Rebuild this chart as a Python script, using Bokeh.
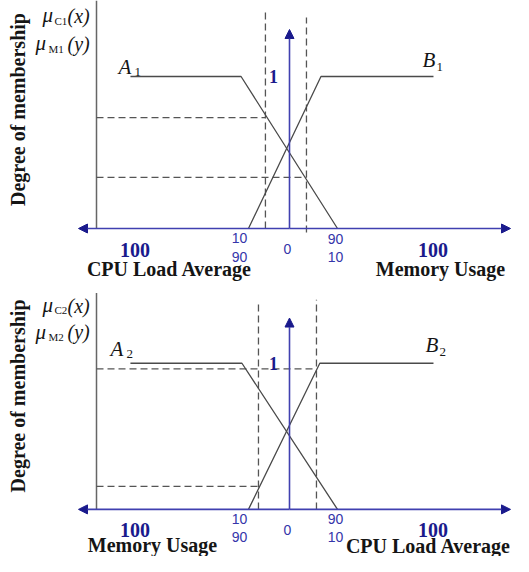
import math
from bokeh.plotting import figure
from bokeh.layouts import column
from bokeh.models import Range1d, Arrow, NormalHead, Label
from bokeh.embed import file_html
from bokeh.resources import INLINE

# ---------------- data (schematic axis: 0 at centre, ~±100 at the "100" marks) ----------------
# panel 1 : CPU load (left) / memory usage (right)
a1_x = [-109.7, -33.4, 33.1]
a1_mu = [1.0, 1.0, 0.0]
b1_x = [-28.3, 21.7, 99.3]
b1_mu = [0.0, 1.0, 1.0]
cut1_x = [-16.6, 11.7]          # crisp inputs (dashed verticals)
cut1_mu = [0.730, 0.336]        # membership degrees read at those inputs (dashed horizontals)

# panel 2 : memory usage (left) / CPU load (right)
a2_x = [-109.7, -32.8, 33.1]
a2_mu = [1.0, 1.0, 0.0]
b2_x = [-28.3, 20.9, 99.3]
b2_mu = [0.0, 1.0, 1.0]
cut2_x = [-21.4, 18.6]
cut2_mu = [0.158, 0.961]

tick_upper = ["10", "90"]
tick_lower = ["90", "10"]
tick_zero = "0"
end_label = "100"

panel1_titles = ["CPU Load Average", "Memory Usage"]
panel2_titles = ["Memory Usage", "CPU Load Average"]

# ---------------- styling ----------------
LINE = "#4a4a4a"
DASH = "#555555"
BLUE = "#4040b0"
NAVY = "#1a1a8c"
TICK = "#3535aa"
TXT = "#151515"
GAXIS = "#666666"
SERIF = "Liberation Serif"
SANS = "Liberation Sans"

PXU = 1.45      # pixels per axis unit
PXM = 152.0     # pixels per membership unit
CX = 289.0      # pixel column of the centre
W = 513


def X(px):
    return (px - CX) / PXU


def make_panel(zero_py, ref_top, ref_bot, fig_h, a_x, a_mu, b_x, b_mu, cut_x, cut_mu,
               vtops, vbots, titles, sub_a, sub_b, mu_subs, lbl):
    def Y(py):
        return (zero_py - py) / PXM

    p = figure(width=W, height=fig_h, output_backend="svg", toolbar_location=None,
               x_range=Range1d(X(0), X(W)), y_range=Range1d(Y(ref_bot), Y(ref_top)),
               x_axis_type=None, y_axis_type=None, min_border=0)
    p.outline_line_color = None
    p.grid.visible = False
    p.background_fill_color = "white"
    p.border_fill_color = "white"

    # grey left membership axis
    p.segment(x0=[X(96)], y0=[0], x1=[X(96)], y1=[Y(lbl["gtop"])], line_color=GAXIS,
              line_width=1.5)

    # dashed verticals (crisp inputs)
    p.segment(x0=cut_x, y0=vbots, x1=cut_x, y1=vtops, line_color=DASH, line_width=1.3,
              line_dash="7 4")
    # dashed horizontals (degrees)
    p.segment(x0=[X(96)] * 2, y0=cut_mu, x1=cut_x, y1=cut_mu, line_color=DASH,
              line_width=1.3, line_dash="7 4")

    # membership functions
    p.line(a_x, a_mu, line_color=LINE, line_width=1.3)
    p.line(b_x, b_mu, line_color=LINE, line_width=1.3)

    # blue axes with arrow heads
    for xe, ye in [(X(78), 0), (X(510), 0), (0, Y(zero_py - 199))]:
        p.add_layout(Arrow(end=NormalHead(size=9, fill_color=NAVY, line_color=NAVY),
                           x_start=0, y_start=0, x_end=xe, y_end=ye,
                           line_color=BLUE, line_width=1.6))

    def lab(px, py, text, size, font=SERIF, style="normal", color=TXT, align="center",
            angle=0.0):
        p.add_layout(Label(x=X(px), y=Y(py), text=text, text_font=font,
                           text_font_size=f"{size}px", text_font_style=style,
                           text_color=color, text_align=align, text_baseline="middle",
                           angle=angle))

    # tick texts
    ty = lbl["ty"]
    lab(239, ty[0], tick_upper[0], 14, SANS, color=TICK)
    lab(239, ty[1], tick_lower[0], 14, SANS, color=TICK)
    lab(335, ty[0] + 0.5, tick_upper[1], 14, SANS, color=TICK)
    lab(335, ty[1], tick_lower[1], 14, SANS, color=TICK)
    lab(287, ty[2], tick_zero, 14, SANS, color=TICK)
    lab(134.5, ty[3], end_label, 20, style="bold", color=NAVY)
    lab(432.5, ty[3], end_label, 20, style="bold", color=NAVY)
    lab(273, lbl["one_y"], "1", 18, style="bold", color=NAVY)

    # axis titles
    lab(lbl["t_x"][0], lbl["t_y"][0], titles[0], 20, style="bold")
    lab(lbl["t_x"][1], lbl["t_y"][1], titles[1], 20, style="bold")

    # vertical title
    lab(17, lbl["deg_y"], "Degree of membership", 20, style="bold", angle=math.pi / 2)

    # mu labels
    m1, m2 = lbl["mu_mid"]
    lab(42, m1 - 1, "\u03bc", 21, style="italic", align="left")
    lab(54, m1 + 5, mu_subs[0], 11, align="left")
    lab(67, m1, "(x)", 20, style="italic", align="left")
    lab(35, m2 - 1, "\u03bc", 21, style="italic", align="left")
    lab(48, m2 + 5, mu_subs[1], 11, align="left")
    lab(67, m2, "(y)", 20, style="italic", align="left")

    # set names
    ax, ay, bx, by = lbl["ab"]
    lab(ax, ay, "A", 21, style="italic", align="left")
    lab(ax + 16, ay + 4.5, sub_a, 13, align="left")
    lab(bx, by, "B", 21, style="italic", align="left")
    lab(bx + 14, by + 7, sub_b, 13, align="left")
    return p


H1 = 281
H2 = 556 - H1

p1 = make_panel(228, 0, H1, H1, a1_x, a1_mu, b1_x, b1_mu, cut1_x, cut1_mu,
                vtops=[(228 - 11) / PXM, (228 - 17) / PXM], vbots=[0, (228 - 232) / PXM],
                titles=panel1_titles, sub_a="1", sub_b="1", mu_subs=["C1", "M1"],
                lbl=dict(gtop=0, ty=[237.5, 256, 248, 249.5], one_y=76,
                         t_x=[169, 440], t_y=[268, 268], deg_y=109,
                         mu_mid=[15, 43], ab=[118, 66.5, 422, 59.5]))

# lower panel: reference rows 281..567 squeezed slightly into the remaining height
p2 = make_panel(518, H1, 567, H2, a2_x, a2_mu, b2_x, b2_mu, cut2_x, cut2_mu,
                vtops=[(518 - 303) / PXM, (518 - 300) / PXM], vbots=[0, 0],
                titles=panel2_titles, sub_a="2", sub_b="2", mu_subs=["C2", "M2"],
                lbl=dict(gtop=293, ty=[528, 547, 539, 539], one_y=366,
                         t_x=[152, 428], t_y=[555, 556], deg_y=400,
                         mu_mid=[306, 334], ab=[110, 351.5, 425, 347.5]))

layout = column(p1, p2, spacing=0)
open("out.html", "w").write(file_html(layout, INLINE))
